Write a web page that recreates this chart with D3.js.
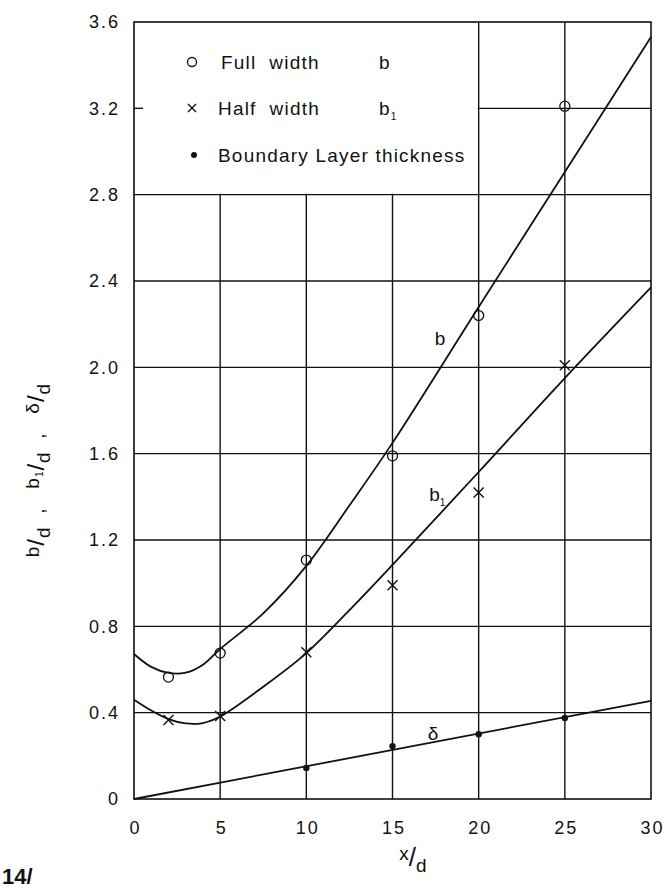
<!DOCTYPE html>
<html>
<head>
<meta charset="utf-8">
<script src="https://cdn.jsdelivr.net/npm/d3@7"></script>
<style>
  body { margin: 0; background: #fff; }
  text { font-family: 'Liberation Sans', 'DejaVu Sans', sans-serif; fill: #111; }
</style>
</head>
<body>
<script>
// axis ticks
var xTicks = [0, 5, 10, 15, 20, 25, 30];
var yTicks = [0, 0.4, 0.8, 1.2, 1.6, 2.0, 2.4, 2.8, 3.2, 3.6];

// measured points
var markerX = [2, 5, 10, 15, 20, 25];
var fullWidth = [0.565, 0.676, 1.107, 1.59, 2.24, 3.21];
var halfWidth = [0.366, 0.385, 0.68, 0.99, 1.42, 2.01];
var layerX = [10, 15, 20, 25];
var layerThickness = [0.144, 0.245, 0.30, 0.375];

// faired curves
var curveX = [0, 1, 2, 3, 4, 5, 7.5, 10, 12.5, 15, 20, 25, 30];
var bCurve = [0.672, 0.612, 0.584, 0.585, 0.622, 0.695, 0.86, 1.08, 1.36, 1.65, 2.28, 2.905, 3.53];
var b1Curve = [0.46, 0.41, 0.37, 0.35, 0.352, 0.382, 0.52, 0.676, 0.875, 1.085, 1.515, 1.95, 2.37];
var deltaX = [0, 30];
var deltaCurve = [0, 0.455];

var W = 667, H = 890;
var x = d3.scaleLinear().domain([0, 30]).range([134, 651]);
var y = d3.scaleLinear().domain([0, 3.6]).range([799, 22]);

var svg = d3.select('body').append('svg')
  .attr('width', W)
  .attr('height', H);

// grid
var grid = svg.append('g').attr('stroke', '#111').attr('stroke-width', 1.4);
grid.selectAll('line.v')
    .data(xTicks.slice(1, -1))
  .enter().append('line')
    .attr('x1', function(d) { return x(d); })
    .attr('x2', function(d) { return x(d); })
    .attr('y1', y(0))
    .attr('y2', y(3.6));
grid.selectAll('line.h')
    .data(yTicks.slice(1, -1))
  .enter().append('line')
    .attr('x1', x(0))
    .attr('x2', x(30))
    .attr('y1', function(d) { return y(d); })
    .attr('y2', function(d) { return y(d); });

// legend box blanks the grid in the upper left
svg.append('rect')
  .attr('x', x(0))
  .attr('y', y(3.6))
  .attr('width', x(20) - x(0) - 1)
  .attr('height', y(2.8) - y(3.6) - 1)
  .attr('fill', '#fff');

// short tick at 3.2 inside the legend
svg.append('line')
  .attr('x1', x(0)).attr('x2', x(0) + 9)
  .attr('y1', y(3.2)).attr('y2', y(3.2))
  .attr('stroke', '#111').attr('stroke-width', 1.4);

// frame
svg.append('rect')
  .attr('x', x(0))
  .attr('y', y(3.6))
  .attr('width', x(30) - x(0))
  .attr('height', y(0) - y(3.6))
  .attr('fill', 'none')
  .attr('stroke', '#111')
  .attr('stroke-width', 1.6);

// axes (labels only)
var yAxis = svg.append('g')
  .attr('transform', 'translate(' + x(0) + ',0)')
  .call(d3.axisLeft(y).tickValues(yTicks).tickSize(0).tickPadding(14)
    .tickFormat(function(d) { return d === 0 ? '0' : d.toFixed(1); }));
var xAxis = svg.append('g')
  .attr('transform', 'translate(0,' + y(0) + ')')
  .call(d3.axisBottom(x).tickValues(xTicks).tickSize(0).tickPadding(22)
    .tickFormat(function(d) { return String(d); }));
[yAxis, xAxis].forEach(function(a) {
  a.select('.domain').remove();
  a.selectAll('text')
    .attr('font-family', 'Liberation Sans, DejaVu Sans, sans-serif')
    .style('font-size', '18px')
    .style('letter-spacing', '2px')
    .attr('fill', '#111');
});
xAxis.selectAll('text').attr('dx', 1);

// curves
var line = d3.line().curve(d3.curveCatmullRom.alpha(0.5));
function drawCurve(xs, ys) {
  svg.append('path')
    .datum(xs.map(function(d, i) { return [x(d), y(ys[i])]; }))
    .attr('d', line)
    .attr('fill', 'none')
    .attr('stroke', '#111')
    .attr('stroke-width', 1.8);
}
drawCurve(curveX, bCurve);
drawCurve(curveX, b1Curve);
drawCurve(deltaX, deltaCurve);

// markers
svg.append('g').selectAll('circle')
    .data(markerX)
  .enter().append('circle')
    .attr('cx', function(d) { return x(d); })
    .attr('cy', function(d, i) { return y(fullWidth[i]); })
    .attr('r', 5)
    .attr('fill', 'none')
    .attr('stroke', '#111')
    .attr('stroke-width', 1.3);

function cross(sel, s) {
  sel.append('path')
    .attr('d', 'M' + (-s) + ',' + (-s) + 'L' + s + ',' + s + 'M' + (-s) + ',' + s + 'L' + s + ',' + (-s))
    .attr('stroke', '#111')
    .attr('stroke-width', 1.4);
}
svg.append('g').selectAll('g')
    .data(markerX)
  .enter().append('g')
    .attr('transform', function(d, i) { return 'translate(' + x(d) + ',' + y(halfWidth[i]) + ')'; })
    .each(function() { cross(d3.select(this), 5); });

svg.append('g').selectAll('circle')
    .data(layerX)
  .enter().append('circle')
    .attr('cx', function(d) { return x(d); })
    .attr('cy', function(d, i) { return y(layerThickness[i]); })
    .attr('r', 3.2)
    .attr('fill', '#111');

// curve labels
function sub(t, main, s) {
  t.append('tspan').text(main);
  t.append('tspan').text(s).style('font-size', '10px').attr('dy', 5);
}
svg.append('text').attr('x', x(17.76)).attr('y', y(2.136)).attr('dy', '0.35em')
  .attr('text-anchor', 'middle').style('font-size', '19px').text('b');
sub(svg.append('text').attr('x', x(17.6)).attr('y', y(1.41)).attr('dy', '0.35em')
  .attr('text-anchor', 'middle').style('font-size', '19px'), 'b', '1');
svg.append('text').attr('x', x(17.35)).attr('y', y(0.306)).attr('dy', '0.35em')
  .attr('text-anchor', 'middle').style('font-size', '19px').text('δ');

// legend
var legend = svg.append('g').style('font-size', '19px').style('letter-spacing', '1.2px');
var legendRows = [
  { y: 62, label: 'Full  width', sym: 'b' },
  { y: 108, label: 'Half  width', sym: 'b' },
  { y: 155, label: 'Boundary Layer thickness', sym: null }
];
legendRows.forEach(function(r, i) {
  var g = legend.append('g').attr('transform', 'translate(0,' + r.y + ')');
  if (i === 0) {
    g.append('circle').attr('cx', 192).attr('cy', 0).attr('r', 4.5)
      .attr('fill', 'none').attr('stroke', '#111').attr('stroke-width', 1.3);
  } else if (i === 1) {
    var c = g.append('g').attr('transform', 'translate(192,0)');
    cross(c, 4);
  } else {
    g.append('circle').attr('cx', 194).attr('cy', 0).attr('r', 3).attr('fill', '#111');
  }
  g.append('text').attr('x', i === 0 ? 221 : 218).attr('y', 0).attr('dy', '0.35em')
    .style('white-space', 'pre').text(r.label);
  if (r.sym) {
    var t = g.append('text').attr('x', 379).attr('y', 0).attr('dy', '0.35em');
    if (i === 1) sub(t, 'b', '1'); else t.text('b');
  }
});

// y axis title, fraction style
var yt = svg.append('text')
  .attr('transform', 'translate(44,470) rotate(-90)')
  .attr('text-anchor', 'middle')
  .style('font-size', '19px')
  .style('letter-spacing', '1px')
  .style('white-space', 'pre');
yt.append('tspan').text('b').attr('dy', -5);
yt.append('tspan').text('/').attr('dy', 5).style('font-size', '24px');
yt.append('tspan').text('d').attr('dy', 6);
yt.append('tspan').text('  ,   ').attr('dy', -6);
yt.append('tspan').text('b').attr('dy', -5);
yt.append('tspan').text('1').style('font-size', '10px').attr('dy', 4);
yt.append('tspan').text('/').attr('dy', 1).style('font-size', '24px');
yt.append('tspan').text('d').attr('dy', 6);
yt.append('tspan').text('  ,   ').attr('dy', -6);
yt.append('tspan').text('δ').attr('dy', -5);
yt.append('tspan').text('/').attr('dy', 5).style('font-size', '24px');
yt.append('tspan').text('d').attr('dy', 6);

// x axis title
var xt = svg.append('text')
  .attr('x', 413).attr('y', 866)
  .attr('text-anchor', 'middle')
  .style('font-size', '19px');
xt.append('tspan').text('x').attr('dy', -6);
xt.append('tspan').text('/').attr('dy', 6).style('font-size', '26px');
xt.append('tspan').text('d').attr('dy', 6);

// page number
svg.append('text')
  .attr('x', 2).attr('y', 884)
  .style('font-size', '22px')
  .style('font-weight', 'bold')
  .attr('font-family', 'Liberation Sans Narrow, Liberation Sans, sans-serif')
  .text('14/');
</script>
</body>
</html>
